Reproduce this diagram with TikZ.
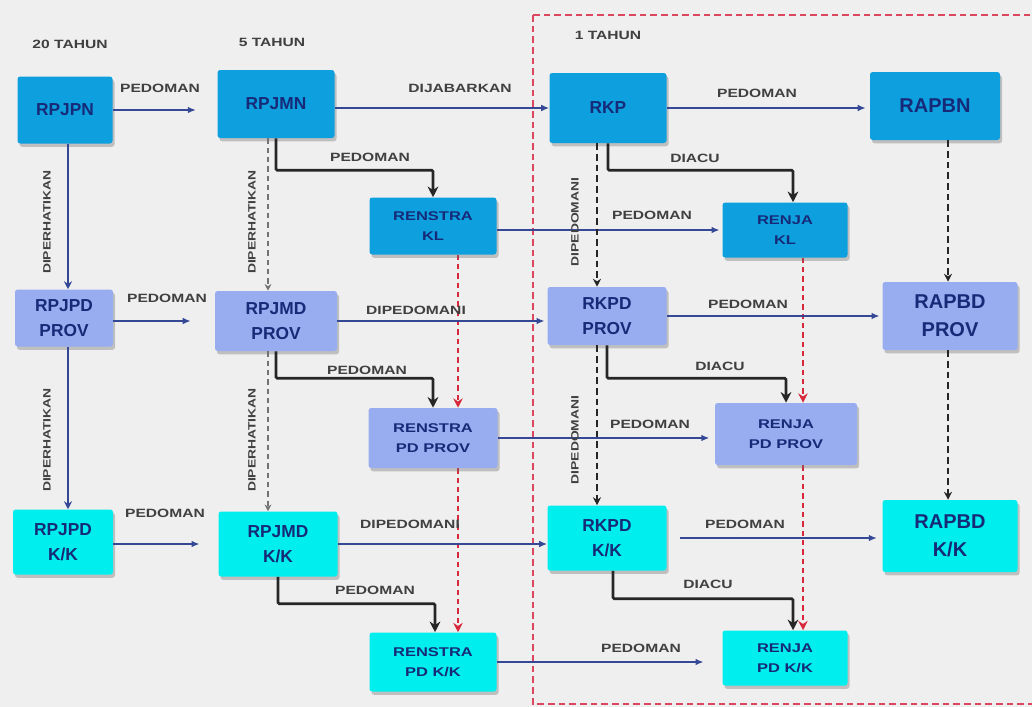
\documentclass[tikz,border=0pt]{standalone}
\usepackage{fontspec}
\setmainfont{Liberation Sans}
\newfontfamily\widefont[FakeStretch=1.3]{Liberation Sans}
\usetikzlibrary{arrows.meta,shadows}
\pgfdeclarelayer{back}
\pgfsetlayers{back,main}

\definecolor{bg}{RGB}{239,239,239}
\definecolor{natl}{RGB}{14,160,222}
\definecolor{prov}{RGB}{152,172,240}
\definecolor{kab}{RGB}{0,238,238}
\definecolor{ink}{RGB}{22,42,120}
\definecolor{flow}{RGB}{52,72,150}
\definecolor{plan}{RGB}{215,40,60}
\definecolor{frame}{RGB}{220,70,95}

\tikzset{
  doc/.style={rounded corners=2pt, inner sep=0pt, align=center, text=ink,
    font=\bfseries\fontsize{13}{19}\selectfont,
    drop shadow={shadow xshift=1.5pt, shadow yshift=-2.5pt, opacity=0.35, fill=black!60}},
  sz/.style 2 args={minimum width=#1*0.75pt, minimum height=#2*0.75pt},
  natdoc/.style={doc, fill=natl},
  provdoc/.style={doc, fill=prov},
  kabdoc/.style={doc, fill=kab},
  budget/.style={font=\bfseries\fontsize{15}{21}\selectfont},
  subdoc/.style={font=\widefont\bfseries\fontsize{9.5}{15}\selectfont},
  flowarrow/.style={draw=flow, line width=1.2pt, -{Latex[length=6pt,width=5pt]}},
  elbow/.style={draw=black!85, line width=2pt, rounded corners=1pt, -{Stealth[length=8pt,width=8pt]}},
  redline/.style={draw=plan, line width=1.6pt, dash pattern=on 4pt off 3pt, -{Stealth[length=7pt,width=7pt]}},
  blackdash/.style={draw=black!85, line width=1.6pt, dash pattern=on 5pt off 3pt, -{Stealth[length=6pt,width=6pt]}},
  graydash/.style={draw=black!55, line width=1pt, dash pattern=on 4pt off 3pt, -{Stealth[length=5pt,width=5pt]}},
  solidline/.style={draw=flow, line width=1.4pt, -{Stealth[length=6pt,width=6pt]}},
  lbl/.style={font=\widefont\bfseries\fontsize{9}{10}\selectfont, text=black!75, inner sep=1pt},
  vlbl/.style={font=\widefont\bfseries\fontsize{8}{9}\selectfont, text=black!75, inner sep=1pt, rotate=90},
}

\begin{document}
\begin{tikzpicture}[x=0.75pt,y=-0.75pt]
  \useasboundingbox (0,0) rectangle (1032,707);

  % period headings
  \node[lbl] (t20) at (70,44) {20 TAHUN};
  \node[lbl] (t5)  at (272,42) {5 TAHUN};
  \node[lbl] (t1)  at (608,35) {1 TAHUN};

  % national documents
  \node[natdoc, sz={95}{67}]  (rpjpn) at (65,110)  {RPJPN};
  \node[natdoc, sz={117}{68}] (rpjmn) at (276,104) {RPJMN};
  \node[natdoc, sz={117}{70}] (rkp)   at (608,108) {RKP};
  \node[natdoc, budget, sz={130}{68}] (rapbn) at (935,106) {RAPBN};
  \node[natdoc, subdoc, sz={127}{57}] (renstrakl) at (433,226) {RENSTRA\\KL};
  \node[natdoc, subdoc, sz={125}{55}] (renjakl)   at (785,230) {RENJA\\KL};

  % provincial documents
  \node[provdoc, sz={98}{57}]  (rpjpdprov) at (64,318)  {RPJPD\\PROV};
  \node[provdoc, sz={122}{60}] (rpjmdprov) at (276,321) {RPJMD\\PROV};
  \node[provdoc, sz={119}{58}] (rkpdprov)  at (607,316) {RKPD\\PROV};
  \node[provdoc, budget, sz={135}{68}] (rapbdprov) at (950,316) {RAPBD\\PROV};
  \node[provdoc, subdoc, sz={129}{60}] (renstrapdprov) at (433,438) {RENSTRA\\PD PROV};
  \node[provdoc, subdoc, sz={142}{62}] (renjapdprov)   at (786,434) {RENJA\\PD PROV};

  % regency / city documents
  \node[kabdoc, sz={100}{65}] (rpjpdkk) at (63,542)  {RPJPD\\K/K};
  \node[kabdoc, sz={119}{65}] (rpjmdkk) at (278,544) {RPJMD\\K/K};
  \node[kabdoc, sz={119}{65}] (rkpdkk)  at (607,538) {RKPD\\K/K};
  \node[kabdoc, budget, sz={135}{72}] (rapbdkk) at (950,536) {RAPBD\\K/K};
  \node[kabdoc, subdoc, sz={127}{59}] (renstrapdkk) at (433,662) {RENSTRA\\PD K/K};
  \node[kabdoc, subdoc, sz={125}{55}] (renjapdkk)   at (785,658) {RENJA\\PD K/K};

  % canvas, frame and vertical planning lines behind the boxes
  \begin{pgfonlayer}{back}
    \fill[bg] (0,0) rectangle (1032,707);
    \draw[frame, line width=1.8pt, dash pattern=on 5pt off 3pt] (533,15) -- (1040,15) (533,15) -- (533,704) -- (1040,704);
    \draw[redline] ([xshift=18.75pt]renstrakl.south) -- ([xshift=18.75pt]renstrakl.south |- renstrapdprov.north);
    \draw[redline] ([xshift=18.75pt]renstrapdprov.south) -- ([xshift=18.75pt]renstrapdprov.south |- renstrapdkk.north);
    \draw[redline] ([xshift=13.5pt]renjakl.south) -- ([xshift=13.5pt]renjakl.south |- renjapdprov.north);
    \draw[redline] ([xshift=12.75pt]renjapdprov.south) -- ([xshift=12.75pt]renjapdprov.south |- renjapdkk.north);
  \end{pgfonlayer}

  % horizontal flows
  \draw[flowarrow, shorten >=16pt] (rpjpn.east) -- (rpjpn.east -| rpjmn.west);
  \draw[flowarrow] (rkp.west -| rpjmn.east) -- (rkp.west);
  \draw[flowarrow, shorten >=3pt] (rkp.east) -- (rkp.east -| rapbn.west);
  \draw[flowarrow, shorten >=2pt] (renjakl.west -| renstrakl.east) -- (renjakl.west);
  \draw[flowarrow, shorten >=18pt] (rpjmdprov.west -| rpjpdprov.east) -- (rpjmdprov.west);
  \draw[flowarrow, shorten >=2pt] (rpjmdprov.east) -- (rpjmdprov.east -| rkpdprov.west);
  \draw[flowarrow, shorten >=2pt] (rkpdprov.east) -- (rkpdprov.east -| rapbdprov.west);
  \draw[flowarrow, shorten >=4pt] (renstrapdprov.east) -- (renstrapdprov.east -| renjapdprov.west);
  \draw[flowarrow, shorten >=14pt] (rpjmdkk.west -| rpjpdkk.east) -- (rpjmdkk.west);
  \draw[flowarrow] (rpjmdkk.east) -- (rpjmdkk.east -| rkpdkk.west);
  \draw[flowarrow, shorten <=10pt, shorten >=4pt] (rkpdkk.east) -- (rkpdkk.east -| rapbdkk.west);
  \draw[flowarrow, shorten >=14pt] (renstrapdkk.east) -- (renstrapdkk.east -| renjapdkk.west);

  \node[lbl] (l1)  at (160,88)  {PEDOMAN};
  \node[lbl] (l2)  at (460,88)  {DIJABARKAN};
  \node[lbl] (l3)  at (757,93)  {PEDOMAN};
  \node[lbl] (l4)  at (652,215) {PEDOMAN};
  \node[lbl] (l5)  at (167,298) {PEDOMAN};
  \node[lbl] (l6)  at (416,310) {DIPEDOMANI};
  \node[lbl] (l7)  at (748,304) {PEDOMAN};
  \node[lbl] (l8)  at (650,424) {PEDOMAN};
  \node[lbl] (l9)  at (165,513) {PEDOMAN};
  \node[lbl] (l10) at (410,524) {DIPEDOMANI};
  \node[lbl] (l11) at (745,524) {PEDOMAN};
  \node[lbl] (l12) at (641,648) {PEDOMAN};

  % elbow links to the strategic and work plans
  \draw[elbow] (rpjmn.south) -- ++(0,32) -| (renstrakl.north);
  \draw[elbow] (rkp.south) -- ++(0,27) -| ([xshift=6pt]renjakl.north);
  \draw[elbow] (rpjmdprov.south) -- ++(0,27) -| (renstrapdprov.north);
  \draw[elbow] (rkpdprov.south) -- ++(0,33) -| (renjapdprov.north);
  \draw[elbow] (rpjmdkk.south) -- ++(0,27) -| ([xshift=1.5pt]renstrapdkk.north);
  \draw[elbow] ([xshift=4.5pt]rkpdkk.south) -- ++(0,28) -| ([xshift=6pt]renjapdkk.north);

  \node[lbl] (e1) at (370,157) {PEDOMAN};
  \node[lbl] (e2) at (695,158) {DIACU};
  \node[lbl] (e3) at (367,370) {PEDOMAN};
  \node[lbl] (e4) at (720,366) {DIACU};
  \node[lbl] (e5) at (375,590) {PEDOMAN};
  \node[lbl] (e6) at (708,584) {DIACU};

  % vertical links between government levels
  \draw[solidline] ([xshift=2.25pt]rpjpn.south) -- ([xshift=2.25pt]rpjpn.south |- rpjpdprov.north);
  \draw[solidline] ([xshift=3pt]rpjpdprov.south) -- ([xshift=3pt]rpjpdprov.south |- rpjpdkk.north);
  \draw[graydash] ([xshift=-6pt]rpjmn.south) -- ([xshift=-6pt]rpjmn.south |- rpjmdprov.north);
  \draw[graydash] ([xshift=-6pt]rpjmdprov.south) -- ([xshift=-6pt]rpjmdprov.south |- rpjmdkk.north);
  \draw[blackdash] ([xshift=-8.25pt]rkp.south) -- ([xshift=-8.25pt]rkp.south |- rkpdprov.north);
  \draw[blackdash] ([xshift=-7.5pt]rkpdprov.south) -- ([xshift=-7.5pt]rkpdprov.south |- rkpdkk.north);
  \draw[blackdash] ([xshift=9.75pt]rapbn.south) -- ([xshift=9.75pt]rapbn.south |- rapbdprov.north);
  \draw[blackdash] ([xshift=-1.5pt]rapbdprov.south) -- ([xshift=-1.5pt]rapbdprov.south |- rapbdkk.north);

  \node[vlbl] (v1) at (47,222)  {DIPERHATIKAN};
  \node[vlbl] (v2) at (47,440)  {DIPERHATIKAN};
  \node[vlbl] (v3) at (252,222) {DIPERHATIKAN};
  \node[vlbl] (v4) at (252,440) {DIPERHATIKAN};
  \node[vlbl] (v5) at (575,222) {DIPEDOMANI};
  \node[vlbl] (v6) at (575,440) {DIPEDOMANI};
\end{tikzpicture}
\end{document}
